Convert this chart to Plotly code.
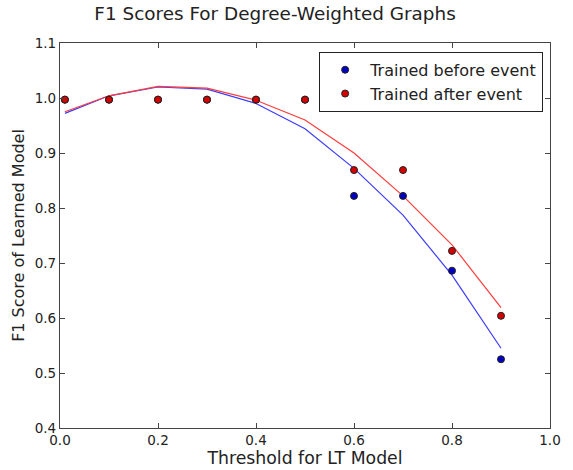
import plotly.graph_objects as go

thresholds = [0.01, 0.1, 0.2, 0.3, 0.4, 0.5, 0.6, 0.7, 0.8, 0.9]
before_scores = [0.997, 0.997, 0.997, 0.997, 0.997, 0.997, 0.822, 0.822, 0.686, 0.525]
after_scores = [0.997, 0.997, 0.997, 0.997, 0.997, 0.997, 0.869, 0.869, 0.722, 0.604]
before_fit = [0.972, 1.004, 1.020, 1.016, 0.990, 0.944, 0.872, 0.787, 0.678, 0.545]
after_fit = [0.975, 1.004, 1.021, 1.018, 0.996, 0.960, 0.900, 0.822, 0.733, 0.619]

x_ticks = [0.0, 0.2, 0.4, 0.6, 0.8, 1.0]
y_ticks = [0.4, 0.5, 0.6, 0.7, 0.8, 0.9, 1.0, 1.1]

FONT = "DejaVu Sans"

fig = go.Figure()
fig.add_trace(go.Scatter(x=thresholds, y=before_fit, mode="lines",
                         line=dict(color="#3b3bff", width=1.2), showlegend=False))
fig.add_trace(go.Scatter(x=thresholds, y=after_fit, mode="lines",
                         line=dict(color="#ff3b3b", width=1.2), showlegend=False))
fig.add_trace(go.Scatter(x=thresholds, y=before_scores, mode="markers",
                         name="Trained before event",
                         marker=dict(color="#0000c0", size=7, line=dict(color="#222222", width=1))))
fig.add_trace(go.Scatter(x=thresholds, y=after_scores, mode="markers",
                         name="Trained after event",
                         marker=dict(color="#d40000", size=7, line=dict(color="#222222", width=1))))

axis_common = dict(showgrid=False, zeroline=False, showline=True, linecolor="#444444",
                   linewidth=1.2, mirror="allticks", ticks="inside", ticklen=5,
                   tickcolor="#444444", automargin=False,
                   tickfont=dict(family=FONT, size=13.5, color="#222222"))

fig.update_layout(
    width=573, height=470,
    margin=dict(l=60, r=23, t=43, b=42),
    paper_bgcolor="white", plot_bgcolor="white",
    title=dict(text="F1 Scores For Degree-Weighted Graphs", x=0.48, xanchor="center",
               xref="container", y=0.972, yanchor="middle",
               font=dict(family=FONT, size=18.4, color="#222222")),
    xaxis=dict(range=[0, 1], tickvals=x_ticks, ticktext=[f"{v:.1f}" for v in x_ticks],
               title=dict(text="Threshold for LT Model", standoff=4,
                          font=dict(family=FONT, size=17.3, color="#222222")),
               **axis_common),
    yaxis=dict(range=[0.4, 1.1], tickvals=y_ticks, ticktext=[f"{v:.1f}" for v in y_ticks],
               title=dict(text="F1 Score of Learned Model", standoff=6,
                          font=dict(family=FONT, size=16, color="#222222")),
               **axis_common),
    legend=dict(x=0.986, xanchor="right", y=0.977, yanchor="top",
                bgcolor="white", bordercolor="#222222", borderwidth=1,
                font=dict(family=FONT, size=16, color="#222222"),
                itemwidth=40, tracegroupgap=0),
    showlegend=True,
)

fig.write_html("out.html",
               config={"displayModeBar": False},
               post_script="document.body.style.margin='0';document.body.style.overflow='hidden';")
